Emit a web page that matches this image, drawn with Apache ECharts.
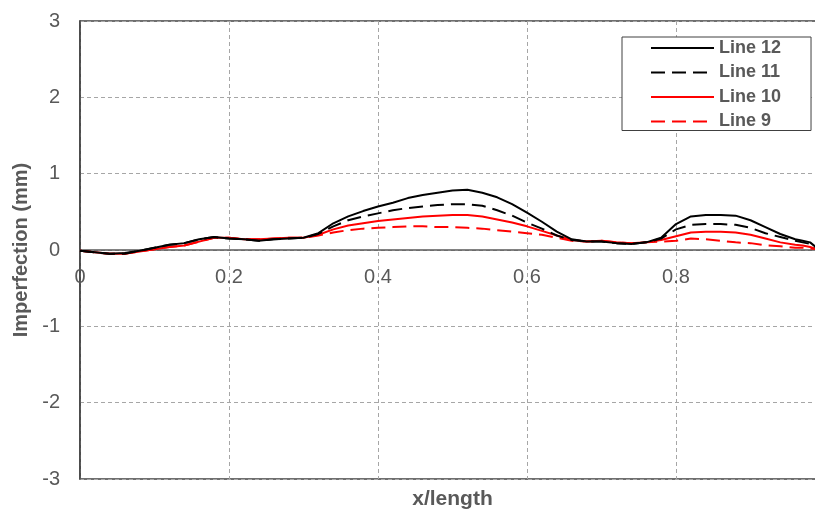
<!DOCTYPE html>
<html>
<head>
<meta charset="utf-8">
<script src="https://cdn.jsdelivr.net/npm/echarts@6/dist/echarts.min.js"></script>
<style>html,body{margin:0;padding:0;background:#fff;}#c{width:815px;height:512px;}</style>
</head>
<body>
<div id="c"></div>
<script>
const xs = [0,0.02,0.04,0.06,0.08,0.10,0.12,0.14,0.16,0.18,0.20,0.22,0.24,0.26,0.28,0.30,0.32,0.34,0.36,0.38,0.40,0.42,0.44,0.46,0.48,0.50,0.52,0.54,0.56,0.58,0.60,0.62,0.64,0.66,0.68,0.70,0.72,0.74,0.76,0.78,0.80,0.82,0.84,0.86,0.88,0.90,0.92,0.94,0.96,0.97,0.98,0.99];
const line12 = [-0.01,-0.03,-0.05,-0.04,-0.01,0.03,0.07,0.09,0.14,0.17,0.15,0.14,0.12,0.14,0.15,0.16,0.22,0.35,0.44,0.51,0.57,0.62,0.68,0.72,0.75,0.78,0.79,0.75,0.69,0.60,0.49,0.37,0.24,0.14,0.11,0.11,0.09,0.08,0.10,0.16,0.34,0.44,0.46,0.46,0.45,0.39,0.30,0.21,0.14,0.12,0.10,0.02];
const line11 = [-0.01,-0.03,-0.05,-0.05,-0.01,0.03,0.07,0.09,0.14,0.17,0.15,0.14,0.12,0.14,0.15,0.16,0.21,0.31,0.39,0.44,0.48,0.52,0.55,0.57,0.59,0.60,0.60,0.58,0.52,0.45,0.36,0.28,0.19,0.13,0.11,0.11,0.09,0.08,0.10,0.15,0.27,0.33,0.34,0.34,0.33,0.29,0.22,0.17,0.12,0.10,0.08,0.02];
const line10 = [-0.01,-0.03,-0.05,-0.05,-0.02,0.01,0.04,0.06,0.11,0.16,0.16,0.14,0.14,0.15,0.16,0.16,0.20,0.27,0.32,0.35,0.38,0.40,0.42,0.44,0.45,0.46,0.46,0.44,0.40,0.36,0.31,0.25,0.19,0.13,0.11,0.12,0.10,0.09,0.10,0.13,0.18,0.23,0.24,0.24,0.23,0.20,0.15,0.10,0.07,0.06,0.04,0.01];
const line9 = [-0.01,-0.03,-0.05,-0.05,-0.02,0.01,0.04,0.06,0.11,0.16,0.16,0.14,0.14,0.15,0.16,0.16,0.19,0.23,0.26,0.28,0.29,0.30,0.31,0.31,0.30,0.30,0.29,0.28,0.26,0.24,0.22,0.20,0.16,0.12,0.11,0.12,0.10,0.09,0.10,0.11,0.12,0.15,0.14,0.12,0.10,0.09,0.06,0.05,0.03,0.03,0.02,0.01];
const seriesNames = ['Line 12','Line 11','Line 10','Line 9'];

function pairs(ys){ return xs.map((x,i)=>[x, ys[i]]); }

const chart = echarts.init(document.getElementById('c'), null, {renderer:'canvas'});
const gridDash = [4,3];
const FONT = 'Liberation Sans, Arial, sans-serif';
const mk = (name, data, color, dashed) => ({
  name, type:'line', data: pairs(data), symbol:'none', showSymbol:false,
  lineStyle:{color, width:2, type: dashed ? [14,7] : 'solid'},
  itemStyle:{color}, animation:false
});
chart.setOption({
  animation:false,
  grid:{left:80, top:21, width:745, height:458, show:true, borderColor:'#404040', borderWidth:1.5, containLabel:false, outerBoundsMode:'none'},
  legend:{
    data: seriesNames, orient:'vertical', left:622, top:37,
    itemWidth:63, itemHeight:14, itemGap:6.5,
    padding:[2,30,0,28],
    itemStyle:{opacity:0},
    backgroundColor:'#fff', borderColor:'#404040', borderWidth:1, borderRadius:0,
    textStyle:{color:'#595959', fontSize:18, fontWeight:'bold', fontFamily:FONT}
  },
  xAxis:{
    type:'value', min:0, max:1, interval:0.2,
    name:'x/length', nameLocation:'middle', nameGap:239,
    nameTextStyle:{color:'#595959', fontSize:21, fontWeight:'bold', fontFamily:FONT},
    offset:-229,
    axisLine:{onZero:false, lineStyle:{color:'#595959', width:1.5}},
    axisTick:{show:false},
    axisLabel:{color:'#595959', fontSize:20, fontFamily:FONT, margin:17, formatter:v=>String(Math.round(v*10)/10)},
    splitLine:{show:true, lineStyle:{color:'#a6a6a6', type:gridDash, width:1}}
  },
  yAxis:{
    type:'value', min:-3, max:3, interval:1,
    name:'Imperfection (mm)', nameLocation:'middle', nameGap:47, nameRotate:90,
    nameTextStyle:{color:'#595959', fontSize:20, fontWeight:'bold', fontFamily:FONT},
    axisLine:{show:true, lineStyle:{color:'#404040', width:1.5}},
    axisTick:{show:false},
    axisLabel:{color:'#595959', fontSize:20, fontFamily:FONT, margin:20},
    splitLine:{show:true, lineStyle:{color:'#a6a6a6', type:gridDash, width:1}}
  },
  series:[
    mk(seriesNames[3], line9, '#ff0000', true),
    mk(seriesNames[2], line10, '#ff0000', false),
    mk(seriesNames[1], line11, '#000000', true),
    mk(seriesNames[0], line12, '#000000', false)
  ]
});
</script>
</body>
</html>
